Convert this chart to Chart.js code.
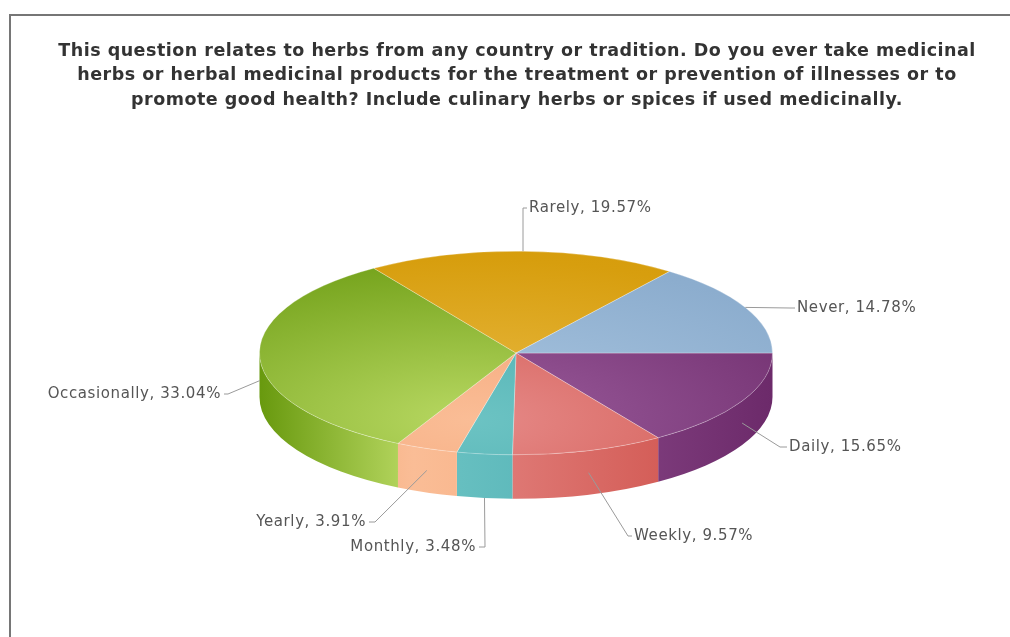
<!DOCTYPE html>
<html>
<head>
<meta charset="utf-8">
<script src="https://cdn.jsdelivr.net/npm/chart.js@4.4.1/dist/chart.umd.min.js"></script>
<style>
  html, body { margin: 0; padding: 0; background: #ffffff; }
  #wrap { width: 1010px; height: 637px; position: relative; }
</style>
</head>
<body>
<div id="wrap"><canvas id="herbs" width="1010" height="637"></canvas></div>
<script>
// Survey question shown above the pie
const titleLines = [
  'This question relates to herbs from any country or tradition. Do you ever take medicinal',
  'herbs or herbal medicinal products for the treatment or prevention of illnesses or to',
  'promote good health? Include culinary herbs or spices if used medicinally.'
];

// Answer categories, clockwise from 3 o'clock
const categories = ['Daily', 'Weekly', 'Monthly', 'Yearly', 'Occasionally', 'Rarely', 'Never'];
// Share of respondents (%)
const percents = [15.65, 9.57, 3.48, 3.91, 33.04, 19.57, 14.78];

// Slice colours: lit and shaded tone of each slice
const lightColors = ['#9c5c9c', '#e68a88', '#6cc3c3', '#fabd96', '#b8d862', '#eabb45', '#aac6e0'];
const darkColors  = ['#6c2a6a', '#cc4a43', '#41a6aa', '#f29c6a', '#6c9c12', '#d49a06', '#88aacb'];

// Callout placement for each slice label
const labelLayout = [
  { drop: 0.5, elbow: [780, 447], end: [787, 447], side: 'left'  },
  { drop: 0.5, elbow: [628, 536], end: [632, 536], side: 'left'  },
  { drop: 1.0, elbow: [485, 547], end: [479, 547], side: 'right' },
  { drop: 0.5, elbow: [375, 522], end: [369, 522], side: 'right' },
  { drop: 0.5, elbow: [228, 394], end: [224, 394], side: 'right' },
  { drop: 0.0, elbow: [523, 208], end: [527, 208], side: 'left'  },
  { drop: 0.0, elbow: [790, 308], end: [795, 308], side: 'left'  }
];

const TILT = 0.397;   // vertical squash of the pie top
const DEPTH = 44;     // thickness of the pie, px

function rgb(hex) {
  const n = parseInt(hex.slice(1), 16);
  return [(n >> 16) & 255, (n >> 8) & 255, n & 255];
}
function mix(a, b, t) {
  const A = rgb(a), B = rgb(b);
  const c = A.map((v, k) => Math.max(0, Math.min(255, Math.round(v + (B[k] - v) * t))));
  return `rgb(${c[0]},${c[1]},${c[2]})`;
}

// Lit top surface: radial light below-left of centre (in squashed space)
function topFill(context) {
  const chart = context.chart;
  const area = chart.chartArea;
  const i = context.dataIndex;
  if (!area) return lightColors[i];
  const cx = (area.left + area.right) / 2;
  const cy = (area.top + area.bottom) / 2;
  const lx = cx - 46;
  const ly = cy + (420 - cy) / TILT;
  const g = chart.ctx.createRadialGradient(lx, ly, 0, lx, ly, 540);
  g.addColorStop(0, lightColors[i]);
  g.addColorStop(0.3, mix(lightColors[i], darkColors[i], 0.35));
  g.addColorStop(0.75, mix(lightColors[i], darkColors[i], 0.88));
  g.addColorStop(1, darkColors[i]);
  return g;
}

const pie3d = {
  id: 'pie3d',
  beforeDraw(chart) {
    const ctx = chart.ctx;
    ctx.save();
    // panel frame
    ctx.strokeStyle = '#767676';
    ctx.lineWidth = 2;
    ctx.beginPath();
    ctx.moveTo(10, 637);
    ctx.lineTo(10, 15);
    ctx.lineTo(1010, 15);
    ctx.stroke();
    // title
    ctx.fillStyle = '#333333';
    ctx.font = 'bold 17.5px "DejaVu Sans", Verdana, sans-serif';
    if ('letterSpacing' in ctx) ctx.letterSpacing = '0.5px';
    ctx.textAlign = 'center';
    ctx.textBaseline = 'middle';
    titleLines.forEach((line, k) => ctx.fillText(line, 517, 51 + k * 24.5));
    ctx.restore();
  },
  beforeDatasetsDraw(chart) {
    const ctx = chart.ctx;
    const arcs = chart.getDatasetMeta(0).data;
    if (!arcs.length) return;
    const cx = arcs[0].x, cy = arcs[0].y, r = arcs[0].outerRadius, ry = r * TILT;
    // front side walls
    ctx.save();
    arcs.forEach((arc, i) => {
      const s = Math.max(arc.startAngle, 0);
      const e = Math.min(arc.endAngle, Math.PI);
      if (e <= s) return;
      const g = ctx.createLinearGradient(cx - r, 0, cx + r, 0);
      g.addColorStop(0, mix(lightColors[i], darkColors[i], 1.05));
      g.addColorStop(0.3, lightColors[i]);
      g.addColorStop(0.5, mix(lightColors[i], darkColors[i], 0.3));
      g.addColorStop(1, darkColors[i]);
      ctx.beginPath();
      ctx.ellipse(cx, cy, r, ry, 0, s, e, false);
      ctx.ellipse(cx, cy + DEPTH, r, ry, 0, e, s, true);
      ctx.closePath();
      ctx.fillStyle = g;
      ctx.fill();
    });
    ctx.restore();
    // squash the library-drawn top into an ellipse
    ctx.save();
    ctx.translate(cx, cy);
    ctx.scale(1, TILT);
    ctx.translate(-cx, -cy);
  },
  afterDatasetsDraw(chart) {
    const ctx = chart.ctx;
    ctx.restore();
    const arcs = chart.getDatasetMeta(0).data;
    if (!arcs.length) return;
    const cx = arcs[0].x, cy = arcs[0].y, r = arcs[0].outerRadius, ry = r * TILT;
    ctx.save();
    ctx.font = '15px "DejaVu Sans", Verdana, sans-serif';
    if ('letterSpacing' in ctx) ctx.letterSpacing = '0.6px';
    ctx.textBaseline = 'middle';
    arcs.forEach((arc, i) => {
      const L = labelLayout[i];
      const mid = (arc.startAngle + arc.endAngle) / 2;
      const ax = cx + r * Math.cos(mid);
      const ay = cy + ry * Math.sin(mid) + DEPTH * L.drop;
      ctx.strokeStyle = '#9a9a9a';
      ctx.lineWidth = 1;
      ctx.beginPath();
      ctx.moveTo(ax, ay);
      ctx.lineTo(L.elbow[0], L.elbow[1]);
      ctx.lineTo(L.end[0], L.end[1]);
      ctx.stroke();
      ctx.fillStyle = '#555555';
      const text = `${categories[i]}, ${percents[i].toFixed(2)}%`;
      if (L.side === 'left') {
        ctx.textAlign = 'left';
        ctx.fillText(text, L.end[0] + 2, L.end[1]);
      } else {
        ctx.textAlign = 'right';
        ctx.fillText(text, L.end[0] - 3, L.end[1]);
      }
    });
    ctx.restore();
  }
};

new Chart(document.getElementById('herbs'), {
  type: 'pie',
  data: {
    labels: categories,
    datasets: [{
      data: percents,
      backgroundColor: topFill,
      borderColor: 'rgba(255,255,255,0.4)',
      borderWidth: 1,
      clip: false
    }]
  },
  options: {
    responsive: false,
    animation: false,
    events: [],
    rotation: 90,
    layout: { padding: { left: 259, right: 237, top: 96, bottom: 27 } },
    plugins: {
      legend: { display: false },
      title: { display: false },
      tooltip: { enabled: false }
    }
  },
  plugins: [pie3d]
});
</script>
</body>
</html>
